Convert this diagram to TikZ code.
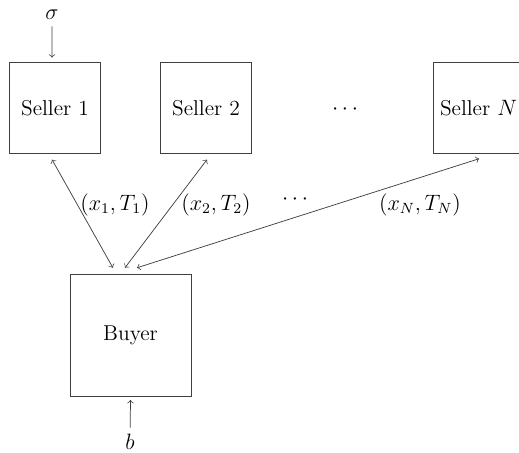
\documentclass[tikz,border=0pt]{standalone}
\begin{document}
\begin{tikzpicture}[x=0.54pt, y=-0.54pt, font=\fontsize{11.6}{13}\selectfont,
        link/.style={draw=black!75},
        box/.style={draw=black!75, minimum width=49pt, minimum height=49pt, inner sep=0pt},
        bigbox/.style={box, minimum width=65.3pt, minimum height=65.8pt}]
        \useasboundingbox (0,0) rectangle (519,453);
        \node[box] (s1) at (55,108) {Seller 1};
        \node[box] (s2) at (206,108) {Seller 2};
        \node (sdots) at (345,110) {$\cdots$};
        \node[box] (sN) at (478.5,108) {Seller $N$};
        \node[bigbox] (buyer) at (130.5,335) {Buyer};
        \node (sigma) at (52,15) {$\sigma$};
        \node (b) at (130,442) {$b$};
        \draw[link, ->] (sigma) -- ([xshift=-1.6pt, yshift=2.5pt]s1.north);
        \draw[link, ->] (b) -- ([yshift=-2pt]buyer.south);
        \draw[link, <->] ([xshift=-1.6pt, yshift=-3.2pt]s1.south) -- ([xshift=-9.5pt, yshift=3.2pt]buyer.north);
        \draw[link, <->] ([xshift=0.5pt, yshift=-3.2pt]s2.south) -- ([xshift=-3pt, yshift=3.2pt]buyer.north);
        \draw[link, <->] ([xshift=0.3pt, yshift=-2.7pt]sN.south) -- ([xshift=3.5pt, yshift=3.2pt]buyer.north);
        \node (l1) at (115,205) {$(x_1,T_1)$};
        \node (l2) at (216,205) {$(x_2,T_2)$};
        \node (ldots) at (295,200) {$\cdots$};
        \node (lN) at (420,205) {$(x_N,T_N)$};
    \end{tikzpicture}
\end{document}
